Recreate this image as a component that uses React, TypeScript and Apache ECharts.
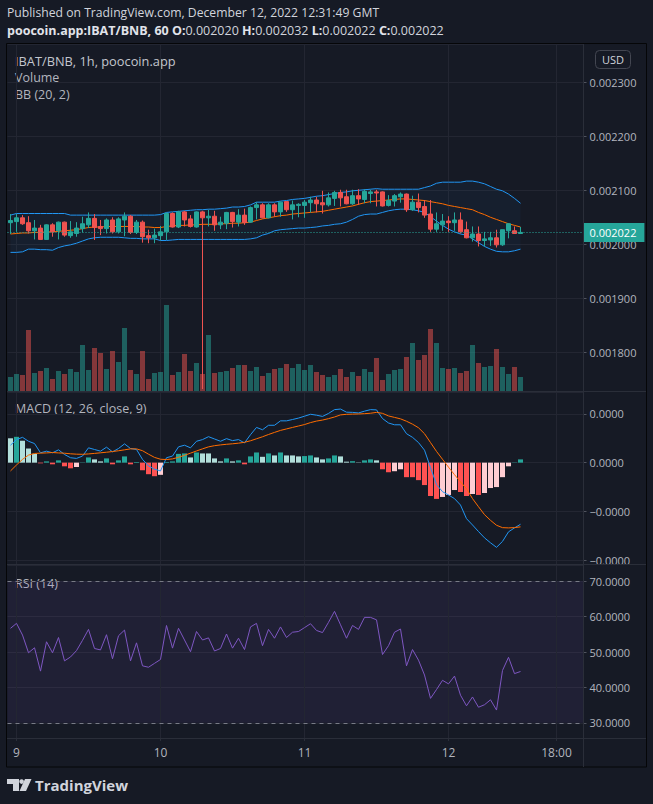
import React, { useEffect, useRef } from "react";
import * as echarts from "echarts";

// ---------- time axis (hourly slots, UTC) ----------
const FIRST_SLOT_UTC = Date.UTC(2022, 11, 8, 23);
const SLOT_COUNT = 96;
const CATEGORIES: string[] = Array.from({ length: SLOT_COUNT }, (_, k) => {
  const d = new Date(FIRST_SLOT_UTC + k * 3600000);
  return `${d.getUTCDate()} ${String(d.getUTCHours()).padStart(2, "0")}:00`;
});
const X_TICKS = ["9 00:00", "10 00:00", "11 00:00", "12 00:00", "12 18:00"];
const X_TICK_LABELS = ["9", "10", "11", "12", "18:00"];

// ---------- prices (units of 1e-6 BNB) ----------
const OPEN = [2040,2042,2049,2040,2025,2030,2009,2036,2025,2041,2016,2020,2029,2036,2048,2033,2029,2045,2023,2045,2052,2022,2041,2016,2012,2016,2023,2057,2032,2060,2047,2032,2060,2049,2052,2036,2039,2059,2041,2054,2041,2068,2073,2049,2073,2060,2079,2064,2072,2072,2077,2082,2077,2073,2085,2096,2088,2075,2090,2083,2094,2097,2097,2072,2080,2088,2093,2064,2078,2070,2056,2028,2036,2043,2040,2045,2027,2012,2019,2007,2008,2012,1999,2025,2025,2020];
const CLOSE = [2044,2049,2038,2025,2030,2009,2036,2023,2041,2017,2023,2030,2038,2048,2031,2029,2045,2023,2047,2052,2022,2041,2014,2012,2017,2023,2057,2032,2060,2045,2033,2060,2049,2052,2036,2041,2059,2042,2054,2040,2068,2073,2049,2073,2060,2078,2064,2073,2074,2078,2082,2075,2073,2086,2096,2086,2075,2090,2084,2098,2097,2095,2071,2081,2090,2093,2064,2078,2068,2054,2028,2038,2043,2040,2045,2023,2012,2019,2007,2010,2012,1999,2027,2038,2020,2022];
const LOW = [2019,2023,2036,2020,2009,2008,2008,2014,2009,2014,2012,2014,2022,2030,2008,2017,2020,2020,2020,2015,2019,2019,2003,2002,2002,2007,2008,2031,2030,2033,2031,2031,1732,2033,2025,2028,2028,2031,2033,2036,2040,2046,2048,2048,2051,2051,2060,2046,2050,2049,2059,2059,2057,2070,2071,2070,2074,2073,2073,2076,2076,2070,2070,2070,2070,2077,2060,2062,2059,2049,2023,2023,2025,2023,2025,2020,2011,2005,1996,1996,1997,1994,1997,2011,2020,2020];
const HIGH = [2056,2056,2054,2052,2045,2036,2037,2039,2042,2042,2043,2041,2051,2059,2056,2045,2048,2050,2050,2059,2054,2045,2044,2027,2029,2034,2059,2059,2062,2062,2054,2061,2062,2064,2062,2051,2060,2060,2065,2066,2070,2078,2076,2076,2076,2079,2080,2081,2076,2082,2088,2088,2099,2096,2099,2101,2101,2101,2102,2102,2101,2101,2098,2091,2093,2096,2094,2090,2094,2082,2082,2059,2056,2052,2059,2059,2042,2033,2033,2023,2023,2027,2027,2039,2033,2032];
const LAST_PRICE = 2022;

// relative volume
const VOLUME = [14,17,16,61,18,20,23,12,20,17,22,19,46,21,43,38,22,40,29,63,21,17,40,12,18,19,86,16,19,37,20,28,17,56,18,19,20,23,26,26,20,24,15,18,22,23,27,23,27,21,26,19,16,14,16,22,14,19,15,22,19,33,11,17,21,22,34,48,31,36,62,48,23,22,23,18,20,46,28,24,25,42,24,17,24,14];

// Bollinger Bands (20, 2)
const BB_UPPER = [2054,2057,2057,2057,2057,2057,2057,2057,2057,2057,2054,2054,2054,2054,2054,2054,2054,2054,2054,2054,2054,2054,2054,2054,2054,2055,2059,2060,2061,2062,2063,2064,2064,2065,2065,2066,2067,2069,2069,2070,2073,2078,2078,2078,2078,2080,2081,2083,2084,2085,2087,2089,2090,2092,2094,2096,2097,2099,2100,2101,2102,2103,2102,2102,2102,2102,2102,2102,2102,2105,2108,2113,2115,2115,2115,2115,2117,2117,2115,2112,2107,2102,2099,2093,2085,2076];
const BB_BASIS = [2019,2020,2021,2021,2022,2022,2023,2023,2024,2025,2026,2027,2029,2031,2032,2032,2033,2033,2033,2033,2033,2033,2032,2032,2031,2031,2033,2034,2035,2035,2036,2036,2037,2037,2037,2038,2038,2039,2039,2040,2041,2044,2047,2049,2051,2053,2054,2056,2057,2058,2059,2060,2061,2063,2065,2067,2069,2071,2074,2077,2079,2080,2081,2082,2083,2084,2084,2083,2082,2081,2079,2077,2075,2072,2070,2068,2066,2064,2059,2055,2050,2046,2042,2038,2035,2032];
const BB_LOWER = [1985,1985,1986,1991,1991,1990,1990,1989,1994,1997,1999,2002,2006,2010,2012,2013,2013,2013,2013,2012,2011,2011,2010,2010,2010,2007,2007,2008,2009,2009,2009,2009,2009,2009,2009,2009,2009,2009,2009,2009,2010,2012,2017,2020,2025,2027,2028,2029,2030,2030,2031,2032,2034,2035,2037,2038,2041,2046,2052,2055,2056,2056,2059,2062,2064,2065,2065,2064,2062,2059,2051,2043,2035,2028,2023,2019,2017,2010,2003,1996,1991,1987,1986,1986,1988,1991];

// MACD (12, 26, close, 9) in units of 1e-5
const MACD_HIST = [0.50,0.53,0.45,0.29,0.18,-0.014,0.026,-0.034,0.047,-0.075,-0.116,-0.089,0.006,0.107,0.067,0.026,0.087,-0.034,0.047,0.128,-0.034,0.013,-0.156,-0.237,-0.278,-0.25,0.013,0.026,0.18,0.19,0.107,0.209,0.189,0.189,0.087,0.026,0.087,0.026,0.047,-0.034,0.128,0.209,0.12,0.189,0.148,0.209,0.148,0.148,0.128,0.135,0.148,0.107,0.067,0.087,0.148,0.128,0.02,0.03,0.006,0.047,0.067,0.047,-0.136,-0.197,-0.176,-0.136,-0.298,-0.298,-0.359,-0.46,-0.684,-0.744,-0.704,-0.663,-0.562,-0.602,-0.684,-0.643,-0.663,-0.623,-0.521,-0.501,-0.298,-0.075,0.006,0.067];
const MACD_LINE = [0.358,0.473,0.52,0.439,0.392,0.202,0.236,0.202,0.263,0.168,0.101,0.087,0.135,0.304,0.27,0.236,0.317,0.222,0.29,0.385,0.29,0.27,0.067,-0.067,-0.135,-0.17,0.101,0.135,0.324,0.358,0.304,0.439,0.473,0.533,0.486,0.439,0.493,0.452,0.473,0.405,0.574,0.723,0.675,0.767,0.767,0.858,0.858,0.885,0.915,0.953,0.993,0.974,0.949,1.01,1.088,1.10,1.036,1.032,1.02,1.057,1.088,1.083,0.905,0.814,0.777,0.777,0.594,0.52,0.412,0.256,-0.1,-0.45,-0.596,-0.663,-0.738,-0.87,-1.15,-1.279,-1.414,-1.543,-1.645,-1.738,-1.616,-1.42,-1.339,-1.265];
const MACD_SIGNAL = [-0.17,-0.048,0.067,0.155,0.189,0.195,0.2,0.208,0.2,0.194,0.182,0.174,0.171,0.179,0.19,0.202,0.214,0.228,0.244,0.263,0.283,0.283,0.245,0.174,0.108,0.07,0.064,0.077,0.11,0.15,0.195,0.24,0.283,0.324,0.348,0.364,0.377,0.387,0.40,0.418,0.449,0.49,0.531,0.578,0.621,0.662,0.692,0.723,0.752,0.782,0.822,0.853,0.874,0.903,0.937,0.98,0.992,0.996,0.999,1.005,1.014,1.032,1.012,0.959,0.929,0.899,0.85,0.79,0.716,0.594,0.412,0.231,0.069,-0.093,-0.247,-0.395,-0.535,-0.738,-0.905,-1.067,-1.184,-1.285,-1.334,-1.339,-1.333,-1.318];

// RSI (14)
const RSI = [56.7,58.1,54.8,49.8,51.2,44.6,52.9,49.8,54.1,47.5,48.6,50.4,53.3,56.4,51.0,50.6,54.9,48.1,54.6,56.2,47.5,52.6,46.1,45.7,46.8,47.9,57.5,51.1,56.7,53.4,50.1,55.8,53.4,54.0,50.3,51.0,55.1,51.1,53.9,50.7,57.1,58.1,51.8,56.4,53.9,57.1,54.1,55.6,55.8,56.9,58.0,56.1,55.5,58.4,61.5,57.7,53.9,57.5,56.4,59.8,59.8,59.1,49.3,51.8,55.6,56.5,46.1,50.7,47.7,43.5,36.9,39.4,42.0,41.0,43.2,37.8,34.8,37.3,34.4,35.1,36.5,33.6,44.8,48.5,43.9,44.5];
const RSI_BANDS = [70, 30];

// ---------- styling ----------
const UP = "#26a69a";
const DOWN = "#ef5350";
const GRID = "#232632";
const SEP = "#2a2e39";
const TXT = "#b2b5be";
const FONT = "'Open Sans', sans-serif";
const PLOT_LEFT = 7.5;
const PLOT_WIDTH = 576;

const tickIdx = X_TICKS.map((t) => CATEGORIES.indexOf(t));

function xAxis(gridIndex: number, labels: boolean) {
  return {
    type: "category",
    gridIndex,
    data: CATEGORIES,
    boundaryGap: true,
    axisLine: { show: false },
    splitLine: { show: false },
    axisTick: labels
      ? { show: true, alignWithLabel: true, length: 3, interval: (i: number) => tickIdx.includes(i), lineStyle: { color: SEP } }
      : { show: false },
    axisLabel: labels
      ? {
          show: true,
          interval: (i: number) => tickIdx.includes(i),
          formatter: (v: string) => X_TICK_LABELS[X_TICKS.indexOf(v)] ?? "",
          color: TXT,
          fontSize: 12,
          fontFamily: FONT,
          margin: 8,
        }
      : { show: false },
  };
}

const vGridLines = (z = 0) => ({
  silent: true,
  symbol: ["none", "none"],
  z,
  label: { show: false },
  lineStyle: { color: GRID, type: "solid", width: 1 },
  data: X_TICKS.map((t) => ({ xAxis: t })),
});

function buildOption(): any {
  const candleData = OPEN.map((o, i) => [o, CLOSE[i], LOW[i], HIGH[i]]);
  const volData = VOLUME.map((v, i) => ({
    value: v,
    itemStyle: { color: CLOSE[i] >= OPEN[i] ? "rgba(38,166,154,0.5)" : "rgba(239,83,80,0.5)" },
  }));
  const bandWidth = BB_UPPER.map((u, i) => u - BB_LOWER[i]);
  const histColor = (i: number) => {
    const v = MACD_HIST[i];
    const prev = i > 0 ? MACD_HIST[i - 1] : Infinity;
    if (v >= 0) return v > prev ? "#26a69a" : "#b2dfdb";
    return v > prev ? "#ffcdd2" : "#ff5252";
  };

  const axisLabelBase = { color: TXT, fontSize: 11, fontFamily: FONT, margin: 6, showMinLabel: false, showMaxLabel: false };
  const axisTickBase = { show: true, length: 3, lineStyle: { color: "#50535e" } };

  return {
    animation: false,
    backgroundColor: "#161a25",
    textStyle: { fontFamily: FONT },
    grid: [
      { left: PLOT_LEFT, top: 44, width: PLOT_WIDTH, height: 347 },
      { left: PLOT_LEFT, top: 392, width: PLOT_WIDTH, height: 172 },
      { left: PLOT_LEFT, top: 565, width: PLOT_WIDTH, height: 173 },
    ],
    xAxis: [xAxis(0, false), xAxis(1, false), xAxis(2, true)],
    yAxis: [
      {
        type: "value",
        gridIndex: 0,
        position: "right",
        min: 1728.3,
        max: 2370.9,
        splitNumber: 6,
        axisLine: { show: false },
        axisTick: axisTickBase,
        splitLine: { lineStyle: { color: GRID } },
        axisLabel: {
          ...axisLabelBase,
          formatter: (v: number) => (Math.abs(v - Math.round(v / 100) * 100) < 1e-6 ? (v * 1e-6).toFixed(6) : ""),
        },
      },
      { type: "value", gridIndex: 0, min: 0, max: 347, show: false },
      {
        type: "value",
        gridIndex: 1,
        position: "right",
        min: -2.08,
        max: 1.45,
        splitNumber: 5,
        axisLine: { show: false },
        axisTick: axisTickBase,
        splitLine: { lineStyle: { color: GRID } },
        axisLabel: {
          ...axisLabelBase,
          formatter: (v: number) =>
            Math.abs(v - Math.round(v)) < 1e-6 ? (v * 1e-5).toFixed(4).replace("-", "\u2212") : "",
        },
      },
      {
        type: "value",
        gridIndex: 2,
        position: "right",
        min: 25.7,
        max: 74.6,
        splitNumber: 5,
        axisLine: { show: false },
        axisTick: axisTickBase,
        splitLine: { lineStyle: { color: GRID } },
        axisLabel: {
          ...axisLabelBase,
          formatter: (v: number) => (Math.abs(v - Math.round(v / 10) * 10) < 1e-6 ? v.toFixed(4) : ""),
        },
      },
    ],
    series: [
      {
        type: "bar",
        xAxisIndex: 0,
        yAxisIndex: 1,
        data: volData,
        barWidth: 5,
        silent: true,
        z: 1,
        markLine: vGridLines(0),
      },
      {
        type: "line",
        xAxisIndex: 0,
        yAxisIndex: 0,
        data: BB_LOWER,
        stack: "bb",
        symbol: "none",
        silent: true,
        z: 1,
        lineStyle: { color: "#2196f3", width: 1 },
      },
      {
        type: "line",
        xAxisIndex: 0,
        yAxisIndex: 0,
        data: bandWidth,
        stack: "bb",
        symbol: "none",
        silent: true,
        z: 1,
        lineStyle: { color: "#2196f3", width: 1 },
        areaStyle: { color: "rgba(33,150,243,0.07)" },
      },
      {
        type: "line",
        xAxisIndex: 0,
        yAxisIndex: 0,
        data: BB_BASIS,
        symbol: "none",
        silent: true,
        z: 1,
        lineStyle: { color: "#ff6d00", width: 1 },
      },
      {
        type: "candlestick",
        xAxisIndex: 0,
        yAxisIndex: 0,
        data: candleData,
        barWidth: 5,
        silent: true,
        itemStyle: { color: UP, color0: DOWN, borderColor: UP, borderColor0: DOWN, borderWidth: 1 },
        markLine: {
          silent: true,
          symbol: ["none", "none"],
          z: 5,
          data: [{ yAxis: LAST_PRICE }],
          lineStyle: { color: UP, type: [1, 2], width: 1 },
          label: {
            show: true,
            position: "end",
            distance: 0,
            formatter: () => (LAST_PRICE * 1e-6).toFixed(6),
            backgroundColor: UP,
            color: "#ffffff",
            fontSize: 11,
            fontFamily: FONT,
            lineHeight: 13,
            padding: [3, 8, 3, 6],
          },
        },
      },
      {
        type: "bar",
        xAxisIndex: 1,
        yAxisIndex: 2,
        barWidth: 5,
        silent: true,
        data: MACD_HIST.map((v, i) => ({ value: v, itemStyle: { color: histColor(i) } })),
        markLine: vGridLines(0),
      },
      {
        type: "line",
        xAxisIndex: 1,
        yAxisIndex: 2,
        data: MACD_LINE,
        symbol: "none",
        silent: true,
        lineStyle: { color: "#2196f3", width: 1 },
      },
      {
        type: "line",
        xAxisIndex: 1,
        yAxisIndex: 2,
        data: MACD_SIGNAL,
        symbol: "none",
        silent: true,
        lineStyle: { color: "#ff6d00", width: 1 },
      },
      {
        type: "line",
        xAxisIndex: 2,
        yAxisIndex: 3,
        data: RSI,
        symbol: "none",
        silent: true,
        z: 3,
        lineStyle: { color: "#7e57c2", width: 1 },
        markArea: {
          silent: true,
          z: 0,
          itemStyle: { color: "rgba(126,87,194,0.1)" },
          data: [[{ yAxis: RSI_BANDS[1] }, { yAxis: RSI_BANDS[0] }]],
        },
        markLine: {
          silent: true,
          symbol: ["none", "none"],
          z: 1,
          label: { show: false },
          data: [
            ...X_TICKS.map((t) => ({ xAxis: t, lineStyle: { color: GRID, type: "solid", width: 1 } })),
            ...RSI_BANDS.map((b) => ({ yAxis: b, lineStyle: { color: "#787b86", type: [4, 4], width: 1 } })),
          ],
        },
      },
    ],
    graphic: [
      // frame and pane separators
      { type: "rect", silent: true, z: 10, shape: { x: 6.5, y: 43.5, width: 640, height: 723.5 }, style: { fill: "none", stroke: "#050608", lineWidth: 1 } },
      { type: "line", silent: true, z: 10, shape: { x1: 7, y1: 391.5, x2: 646, y2: 391.5 }, style: { stroke: SEP, lineWidth: 1 } },
      { type: "line", silent: true, z: 10, shape: { x1: 7, y1: 564.5, x2: 646, y2: 564.5 }, style: { stroke: SEP, lineWidth: 1 } },
      { type: "line", silent: true, z: 10, shape: { x1: 7, y1: 738.5, x2: 646, y2: 738.5 }, style: { stroke: SEP, lineWidth: 1 } },
      { type: "line", silent: true, z: 10, shape: { x1: 583.5, y1: 44, x2: 583.5, y2: 767 }, style: { stroke: SEP, lineWidth: 1 } },
      // header
      {
        type: "text",
        silent: true,
        x: 7,
        y: 12.5,
        style: { text: "Published on TradingView.com, December 12, 2022 12:31:49 GMT", fill: "#d1d4dc", font: `12.2px ${FONT}`, verticalAlign: "middle" },
      },
      {
        type: "text",
        silent: true,
        x: 7,
        y: 30.5,
        style: {
          text: "{b|poocoin.app:IBAT/BNB, 60 O:}0.002020 {b|H:}0.002032 {b|L:}0.002022 {b|C:}0.002022",
          fill: "#d1d4dc",
          font: `12.5px ${FONT}`,
          verticalAlign: "middle",
          rich: { b: { fontWeight: "bold", fill: "#e1e3ea", fontSize: 12.5, fontFamily: FONT } },
        },
      },
      // pane legends
      { type: "text", silent: true, x: 15, y: 61, style: { text: "IBAT/BNB, 1h, poocoin.app", fill: "#c3c6ce", font: `12.8px ${FONT}`, verticalAlign: "middle" } },
      { type: "text", silent: true, x: 15, y: 77.5, style: { text: "Volume", fill: TXT, font: `12.5px ${FONT}`, verticalAlign: "middle" } },
      { type: "text", silent: true, x: 15, y: 94, style: { text: "BB (20, 2)", fill: TXT, font: `12.5px ${FONT}`, verticalAlign: "middle" } },
      { type: "text", silent: true, x: 15, y: 408, style: { text: "MACD (12, 26, close, 9)", fill: TXT, font: `12.5px ${FONT}`, verticalAlign: "middle" } },
      { type: "text", silent: true, x: 15, y: 583, style: { text: "RSI (14)", fill: TXT, font: `12.5px ${FONT}`, verticalAlign: "middle" } },
      // currency box
      { type: "rect", silent: true, shape: { x: 595.5, y: 50.5, width: 35, height: 18, r: 4 }, style: { fill: "none", stroke: "#434651", lineWidth: 1 } },
      { type: "text", silent: true, x: 613, y: 59.5, style: { text: "USD", fill: "#d1d4dc", font: `11px ${FONT}`, align: "center", verticalAlign: "middle" } },
      // TradingView logo
      { type: "rect", silent: true, shape: { x: 7, y: 779, width: 12, height: 5 }, style: { fill: "#d1d4dc" } },
      { type: "rect", silent: true, shape: { x: 13, y: 779, width: 6, height: 12 }, style: { fill: "#d1d4dc" } },
      { type: "circle", silent: true, shape: { cx: 21.6, cy: 781.6, r: 2.3 }, style: { fill: "#d1d4dc" } },
      { type: "polygon", silent: true, shape: { points: [[25, 779], [31.5, 779], [26, 791], [19.5, 791]] }, style: { fill: "#d1d4dc" } },
      { type: "text", silent: true, x: 35, y: 785, style: { text: "TradingView", fill: "#d1d4dc", font: `bold 15px ${FONT}`, verticalAlign: "middle" } },
    ],
  };
}

export default function App() {
  const ref = useRef<HTMLDivElement>(null);
  useEffect(() => {
    if (!ref.current) return;
    const chart = echarts.init(ref.current, null, { renderer: "svg" });
    chart.setOption(buildOption());
    return () => chart.dispose();
  }, []);
  return <div ref={ref} style={{ position: "fixed", left: 0, top: 0, width: 653, height: 804 }} />;
}
